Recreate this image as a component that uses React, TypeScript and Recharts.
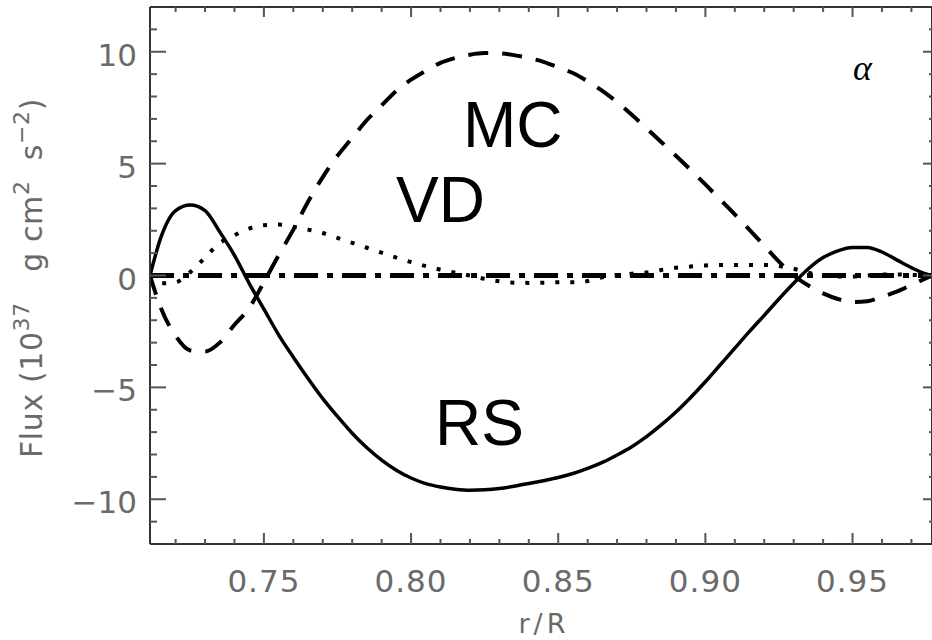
import React from 'react';
import { LineChart, Line, XAxis, YAxis } from 'recharts';

// r/R sample positions
const rGrid = [
  0.7113, 0.715, 0.72, 0.725, 0.73, 0.735, 0.74, 0.745, 0.75, 0.755,
  0.76, 0.765, 0.77, 0.775, 0.78, 0.785, 0.79, 0.795, 0.8, 0.805,
  0.81, 0.815, 0.82, 0.825, 0.83, 0.835, 0.84, 0.845, 0.85, 0.855,
  0.86, 0.865, 0.87, 0.875, 0.88, 0.885, 0.89, 0.895, 0.9, 0.905,
  0.91, 0.915, 0.92, 0.925, 0.93, 0.935, 0.94, 0.945, 0.95, 0.955,
  0.96, 0.965, 0.97, 0.975, 0.977,
];
// RS (solid)
const rsFlux = [
  0, 1.7, 2.9, 3.15, 2.9, 1.95, 0.9, -0.35, -1.5, -2.65,
  -3.65, -4.6, -5.5, -6.3, -7.05, -7.7, -8.25, -8.7, -9.05, -9.3,
  -9.45, -9.55, -9.6, -9.58, -9.52, -9.42, -9.3, -9.17, -9.03, -8.85,
  -8.62, -8.35, -8.02, -7.65, -7.2, -6.68, -6.1, -5.45, -4.75, -4.0,
  -3.25, -2.5, -1.78, -1.05, -0.35, 0.3, 0.8, 1.1, 1.25, 1.25,
  1.05, 0.7, 0.35, 0.07, 0,
];
// MC (dashed)
const mcFlux = [
  0, -1.45, -2.7, -3.35, -3.4, -3.0, -2.2, -1.45, -0.3, 0.9,
  2.05, 3.3, 4.4, 5.35, 6.15, 6.95, 7.6, 8.25, 8.75, 9.15,
  9.5, 9.72, 9.87, 9.94, 9.93, 9.85, 9.72, 9.55, 9.3, 9.05,
  8.68, 8.25, 7.75, 7.18, 6.58, 5.97, 5.35, 4.72, 4.07, 3.4,
  2.73, 2.04, 1.33, 0.62, 0.0, -0.45, -0.8, -1.05, -1.18, -1.15,
  -0.95, -0.72, -0.42, -0.12, 0,
];
// VD (dotted)
const vdFlux = [
  0, -0.35, -0.3, 0.15, 0.8, 1.45, 1.8, 2.1, 2.25, 2.28,
  2.18, 2.05, 1.9, 1.68, 1.46, 1.24, 1.02, 0.8, 0.6, 0.42,
  0.26, 0.12, 0.0, -0.15, -0.26, -0.32, -0.33, -0.32, -0.3, -0.3,
  -0.25, -0.08, 0.02, 0.08, 0.13, 0.25, 0.35, 0.4, 0.45, 0.47,
  0.47, 0.47, 0.47, 0.42, 0.3, 0.12, 0.0, -0.05, -0.05, 0.0,
  0.05, 0.05, 0.03, 0.0, 0,
];
// dash-dot reference (zero) curve
const zeroR = [0.7113, 0.977];
const zeroFlux = [0, 0];

const xMajorTicks = [0.75, 0.8, 0.85, 0.9, 0.95];
const xMinorTicks = [0.72, 0.73, 0.74, 0.75, 0.76, 0.77, 0.78, 0.79, 0.8, 0.81, 0.82, 0.83, 0.84,
  0.85, 0.86, 0.87, 0.88, 0.89, 0.9, 0.91, 0.92, 0.93, 0.94, 0.95, 0.96, 0.97];
const yMajorTicks = [-10, -5, 0, 5, 10];
const yMinorTicks = [-11, -10, -9, -8, -7, -6, -5, -4, -3, -2, -1, 0, 1, 2, 3, 4, 5, 6, 7, 8, 9, 10, 11];

const X_DOMAIN: [number, number] = [0.7113, 0.977];
const Y_DOMAIN: [number, number] = [-12, 12];

const data = rGrid.map((r, i) => ({ r, rs: rsFlux[i], mc: mcFlux[i], vd: vdFlux[i] }));
const zeroData = zeroR.map((r, i) => ({ r, z: zeroFlux[i] }));

const TICK_FONT = "'DejaVu Sans', sans-serif";
const TICK_COLOR = '#6a6a6a';
const AXIS_COLOR = '#333';
const MARK_COLOR = '#555';

const XTick = (p: any) => (
  <text x={p.x} y={p.y} dy={23} textAnchor="middle" fontFamily={TICK_FONT} fontSize={31} fill={TICK_COLOR} letterSpacing={1}>
    {p.payload.value.toFixed(2)}
  </text>
);

const YTick = (p: any) => {
  const v = p.payload.value;
  const s = v < 0 ? '\u2212' + Math.abs(v) : String(v);
  return (
    <text x={p.x} y={p.y} dy={14} textAnchor="end" fontFamily={TICK_FONT} fontSize={31} fill={TICK_COLOR}>
      {s}
    </text>
  );
};

const makeMark = (side: string, majors: number[], majLen: number, minLen: number) => (p: any) => {
  const v = p.payload.value;
  const isMaj = majors.some((m) => Math.abs(m - v) < 1e-6);
  const len = isMaj ? majLen : minLen;
  const x = p.x;
  const y = p.y;
  let x2 = x;
  let y2 = y;
  if (side === 'bottom') y2 = y - len;
  if (side === 'top') y2 = y + len;
  if (side === 'left') x2 = x + len;
  if (side === 'right') x2 = x - len;
  return <line x1={x} y1={y} x2={x2} y2={y2} stroke={MARK_COLOR} strokeWidth={2} />;
};

const BottomMark = makeMark('bottom', xMajorTicks, 11, 5);
const TopMark = makeMark('top', xMajorTicks, 10, 5);
const LeftMark = makeMark('left', yMajorTicks, 16, 7);
const RightMark = makeMark('right', yMajorTicks, 9, 3);

const ANNOT_FONT = "'Liberation Sans', Arial, sans-serif";

export default function App() {
  return (
    <div style={{ position: 'absolute', left: 0, top: 0, width: 932, height: 640, background: '#fff' }}>
      <LineChart width={932} height={640} data={data} margin={{ top: 7, right: 0, bottom: 36, left: 0 }}>
        {/* main axes with labels */}
        <XAxis xAxisId="main" dataKey="r" type="number" domain={X_DOMAIN} allowDataOverflow
          ticks={xMajorTicks} interval={0} height={60} tickLine={false} tickSize={0} tickMargin={25}
          axisLine={{ stroke: AXIS_COLOR, strokeWidth: 2 }} tick={XTick} />
        <YAxis yAxisId="main" type="number" domain={Y_DOMAIN} allowDataOverflow
          ticks={yMajorTicks} interval={0} width={150} tickLine={false} tickSize={0} tickMargin={13}
          axisLine={{ stroke: AXIS_COLOR, strokeWidth: 2 }} tick={YTick} />

        {/* inward tick marks on all four sides */}
        <XAxis xAxisId="bmark" dataKey="r" type="number" domain={X_DOMAIN} allowDataOverflow ticks={xMinorTicks} interval={0}
          mirror height={1} tickSize={0} tickMargin={0} tickLine={false} axisLine={false} tick={BottomMark} />
        <XAxis xAxisId="tmark" dataKey="r" orientation="top" type="number" domain={X_DOMAIN} allowDataOverflow ticks={xMinorTicks} interval={0}
          mirror height={1} tickSize={0} tickMargin={0} tickLine={false} axisLine={{ stroke: AXIS_COLOR, strokeWidth: 2 }} tick={TopMark} />
        <YAxis yAxisId="lmark" type="number" domain={Y_DOMAIN} allowDataOverflow ticks={yMinorTicks} interval={0}
          mirror width={1} tickSize={0} tickMargin={0} tickLine={false} axisLine={false} tick={LeftMark} />
        <YAxis yAxisId="rmark" orientation="right" type="number" domain={Y_DOMAIN} allowDataOverflow ticks={yMinorTicks} interval={0}
          mirror width={1} tickSize={0} tickMargin={0} tickLine={false} axisLine={{ stroke: AXIS_COLOR, strokeWidth: 2 }} tick={RightMark} />

        <Line xAxisId="main" yAxisId="main" data={zeroData} dataKey="z" type="linear" stroke="#000" strokeWidth={5}
          strokeDasharray="24 9 6 9" dot={false} activeDot={false} isAnimationActive={false} />
        <Line xAxisId="main" yAxisId="main" dataKey="vd" type="monotone" stroke="#000" strokeWidth={4}
          strokeDasharray="4 11" dot={false} activeDot={false} isAnimationActive={false} />
        <Line xAxisId="main" yAxisId="main" dataKey="mc" type="monotone" stroke="#000" strokeWidth={4}
          strokeDasharray="20 14" dot={false} activeDot={false} isAnimationActive={false} />
        <Line xAxisId="main" yAxisId="main" dataKey="rs" type="monotone" stroke="#000" strokeWidth={3.5}
          dot={false} activeDot={false} isAnimationActive={false} />
      </LineChart>

      <svg width={932} height={640} style={{ position: 'absolute', left: 0, top: 0, pointerEvents: 'none' }}>
        <text transform="translate(42,278) rotate(-90)" textAnchor="middle" fontFamily={TICK_FONT} fontSize={30}
          fill={TICK_COLOR} letterSpacing={0.6} style={{ whiteSpace: 'pre' }}>
          {'Flux (10'}
          <tspan dy={-13} fontSize={22}>37</tspan>
          <tspan dy={13}>{'   g cm'}</tspan>
          <tspan dy={-13} fontSize={22}>2</tspan>
          <tspan dy={13}>{'  s'}</tspan>
          <tspan dy={-13} fontSize={22}>{'\u22122'}</tspan>
          <tspan dy={13}>)</tspan>
        </text>
        <text x={544} y={633} textAnchor="middle" fontFamily={TICK_FONT} fontSize={27} letterSpacing={4} fill={TICK_COLOR}>r/R</text>
        <text x={463} y={147} fontFamily={ANNOT_FONT} fontSize={64} fill="#000">MC</text>
        <text x={396} y={222} fontFamily={ANNOT_FONT} fontSize={64} fill="#000">VD</text>
        <text x={435} y={445} fontFamily={ANNOT_FONT} fontSize={64} fill="#000">RS</text>
        <text x={853} y={80} fontFamily="'Liberation Serif', serif" fontStyle="italic" fontSize={36} fill="#000">α</text>
      </svg>
    </div>
  );
}
